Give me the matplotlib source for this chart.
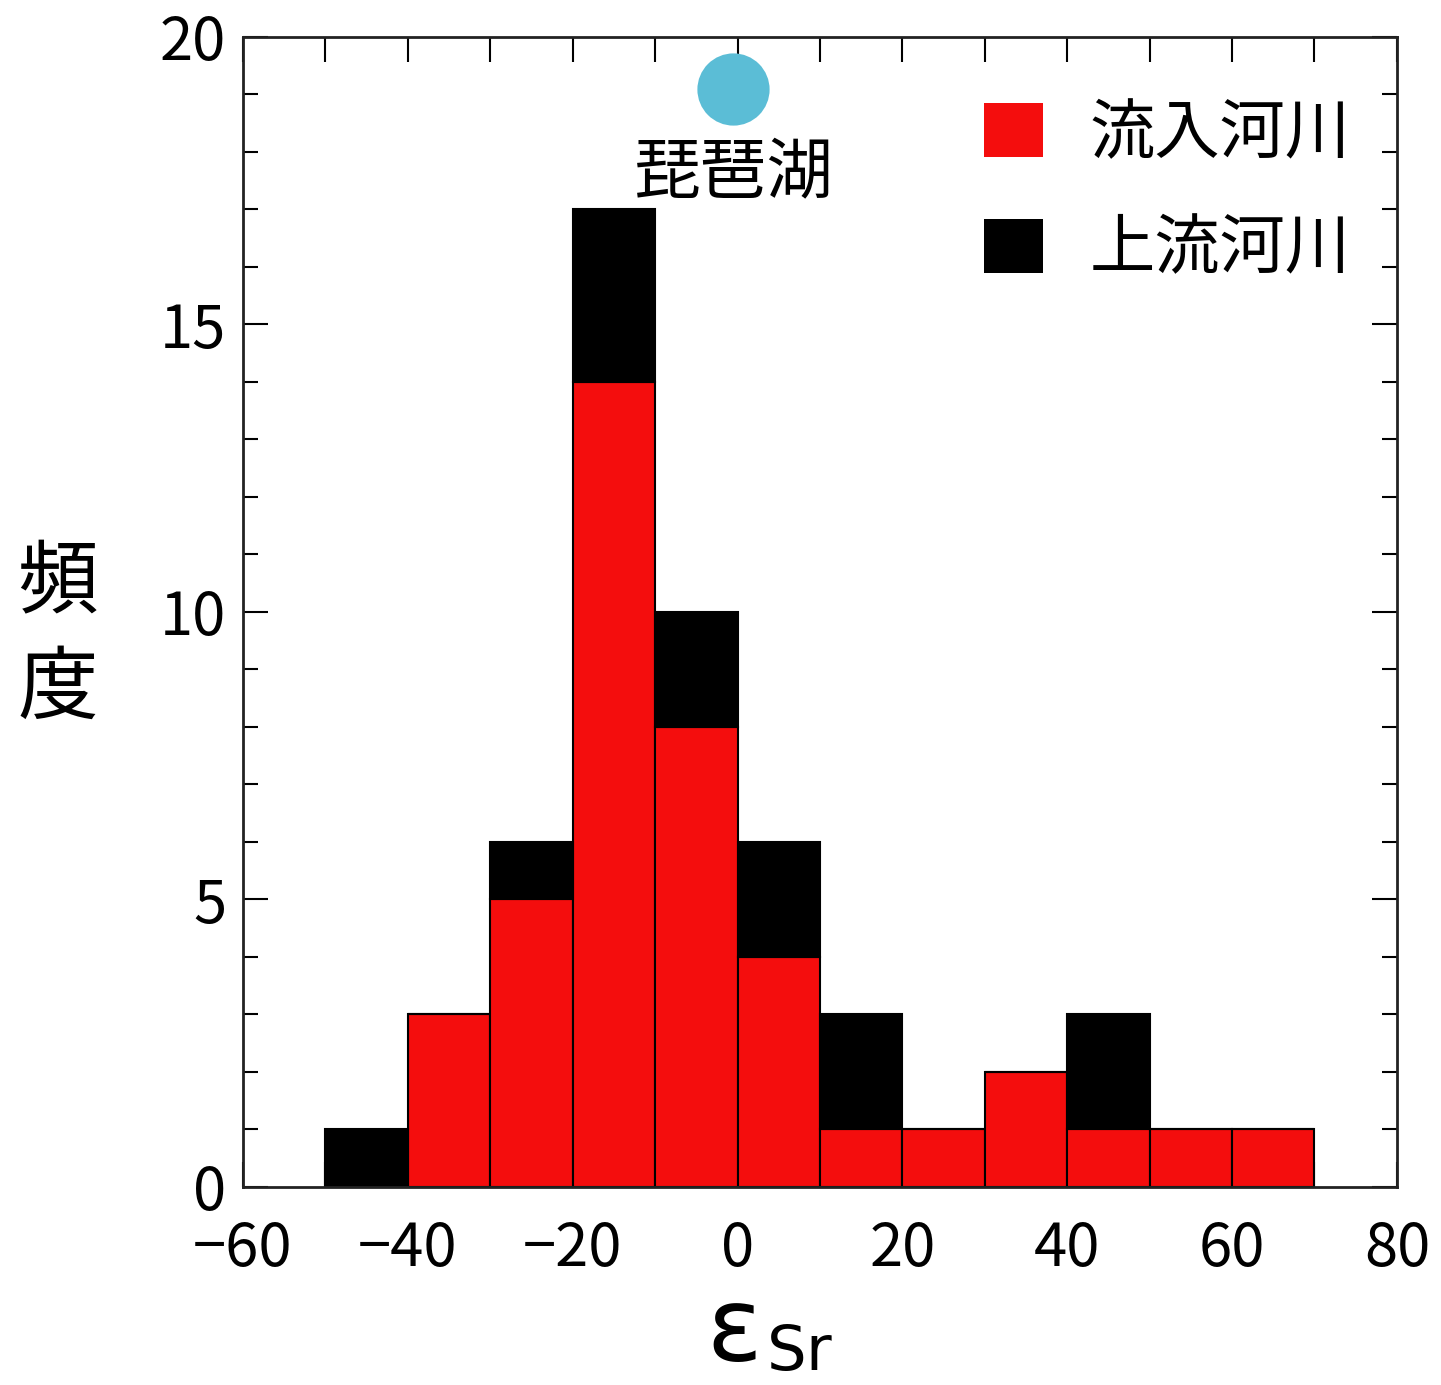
import matplotlib
matplotlib.use('Agg')
import matplotlib.pyplot as plt
from matplotlib.patches import Patch
from matplotlib.ticker import MultipleLocator, FuncFormatter

plt.rcParams['font.family'] = ['Noto Sans CJK JP', 'DejaVu Sans']
plt.rcParams['axes.unicode_minus'] = True
plt.rcParams['mathtext.fontset'] = 'dejavusans'

# histogram data (bin width 10)
bin_left = [-50, -40, -30, -20, -10, 0, 10, 20, 30, 40, 50, 60]
inflow_counts = [0, 3, 5, 14, 8, 4, 1, 1, 2, 1, 1, 1]      # 流入河川
upstream_counts = [1, 0, 1, 3, 2, 2, 2, 0, 0, 2, 0, 0]     # 上流河川
bin_width = 10

lake_x = [-0.5]
lake_y = [19.1]
lake_label = '琵琶湖'

red = '#f40d0d'
lake_color = '#5bbdd6'


def main():
    fig = plt.figure(figsize=(14.41, 13.85), dpi=100)
    ax = fig.add_axes([0.1686, 0.1430, 0.8008, 0.8303])

    ax.bar(bin_left, inflow_counts, width=bin_width, align='edge',
           color=red, edgecolor='black', linewidth=1.5, zorder=2)
    ax.bar(bin_left, upstream_counts, width=bin_width, align='edge',
           bottom=inflow_counts, color='black', edgecolor='black',
           linewidth=1.5, zorder=2)

    ax.plot(lake_x, lake_y, 'o', color=lake_color, markersize=52,
            markeredgewidth=0, zorder=3, clip_on=False)
    ax.text(lake_x[0], 17.6, lake_label, ha='center', va='center',
            fontsize=48, zorder=4)

    ax.set_xlim(-60, 80)
    ax.set_ylim(0, 20)
    ax.xaxis.set_major_locator(MultipleLocator(20))
    ax.xaxis.set_minor_locator(MultipleLocator(10))
    ax.yaxis.set_major_locator(MultipleLocator(5))
    ax.yaxis.set_minor_locator(MultipleLocator(1))
    ax.xaxis.set_major_formatter(FuncFormatter(
        lambda v, p: ('\u2212%d' % abs(v)) if v < 0 else '%d' % v))

    ax.tick_params(which='both', direction='in', top=True, right=True,
                   width=1.5, labelsize=43)
    ax.tick_params(axis='x', which='both', length=18, pad=23)
    ax.tick_params(axis='y', which='major', length=18, pad=12)
    ax.tick_params(axis='y', which='minor', length=11)
    for s in ax.spines.values():
        s.set_linewidth(2)
        s.set_color('#222222')

    # x label: epsilon with subscript Sr
    fig.text(706 / 1441, 1 - 1361 / 1385, r'$\mathrm{ε}$', ha='left',
             va='baseline', fontsize=74, family='DejaVu Sans')
    fig.text(766 / 1441, 1 - 1370 / 1385, r'$\mathrm{Sr}$', ha='left',
             va='baseline', fontsize=45, family='DejaVu Sans')

    fig.text(0.040, 0.54, '頻\n度', ha='center', va='center',
             fontsize=58, linespacing=1.35)

    handles = [Patch(facecolor=red, edgecolor='none'),
               Patch(facecolor='black', edgecolor='none')]
    ax.legend(handles, ['流入河川', '上流河川'], loc='upper left',
              bbox_to_anchor=(0.642, 0.944), frameon=False, fontsize=47,
              handlelength=0.9, handleheight=0.9, handletextpad=0.72,
              labelspacing=0.75, borderpad=0, borderaxespad=0)

    fig.savefig('out.png', dpi=100)


if __name__ == '__main__':
    main()
